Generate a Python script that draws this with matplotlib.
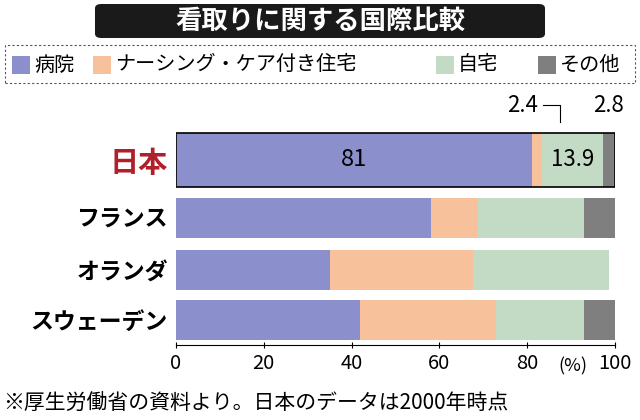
import matplotlib
matplotlib.use("Agg")
import matplotlib.pyplot as plt
from matplotlib.patches import FancyBboxPatch, Rectangle
import numpy as np

plt.rcParams["font.family"] = "Noto Sans CJK JP"

countries = ["日本", "フランス", "オランダ", "スウェーデン"]
categories = ["病院", "ナーシング・ケア付き住宅", "自宅", "その他"]
hospital = [81, 58.1, 35.1, 41.9]
nursing = [2.4, 10.7, 32.6, 31.0]
home = [13.9, 24.1, 30.9, 20.0]
other = [2.8, 7.1, 0.0, 7.1]
colors = ["#8b90cc", "#f7c29b", "#c3dbc4", "#7f7f7f"]
xticks = [0, 20, 40, 60, 80, 100]

fig = plt.figure(figsize=(6.4, 4.2), dpi=100)
W, H = 640, 420

# title box
fig.patches.append(FancyBboxPatch((95 / W, 1 - 38 / H), 450 / W, 34 / H,
                                  boxstyle="round,pad=0,rounding_size=0.01",
                                  transform=fig.transFigure, fc="#1a1a1a", ec="none"))
fig.text(320 / W, 1 - 21 / H, "看取りに関する国際比較", color="white", fontsize=19,
         fontweight="bold", ha="center", va="center")

# legend box
fig.patches.append(Rectangle((5 / W, 1 - 83 / H), 630 / W, 38 / H, transform=fig.transFigure,
                             fc="white", ec="#555555", ls=(0, (2, 2)), lw=0.8))
leg_x = [12, 93, 436, 538]
for x, lab, c in zip(leg_x, categories, colors):
    fig.patches.append(Rectangle((x / W, 1 - 74 / H), 18 / W, 18 / H,
                                 transform=fig.transFigure, fc=c, ec="none"))
    fig.text((x + 22) / W, 1 - 65 / H, lab, fontsize=14.5, va="center", ha="left")

ax = fig.add_axes([176 / W, 1 - 345 / H, 439 / W, 220 / H])
centers = [160, 218, 270, 320]
heights = [54, 40, 40, 40]
left = np.zeros(4)
for vals, c in zip([hospital, nursing, home, other], colors):
    ax.barh(centers, vals, left=left, height=heights, color=c, edgecolor="none")
    left += np.array(vals)
# Japan bar outline
ax.barh(centers[0], hospital[0] + nursing[0] + home[0] + other[0], height=heights[0],
        fill=False, edgecolor="black", lw=1.2)

ax.set_xlim(0, 100)
ax.set_ylim(345, 125)
ax.text(hospital[0] / 2, centers[0], "81", fontsize=17, ha="center", va="center")
ax.text(hospital[0] + nursing[0] + home[0] / 2, centers[0], f"{home[0]}", fontsize=16,
         ha="center", va="center")
ax.text(79, 105, f"{nursing[0]}", fontsize=16, ha="center", va="center", clip_on=False)
ax.plot([83.5, 87.5, 87.5], [105, 105, 122], color="black", lw=0.8, clip_on=False)
ax.text(98.5, 105, f"{other[0]}", fontsize=16, ha="center", va="center", clip_on=False)

ax.set_yticks(centers)
ax.set_yticklabels(countries, fontsize=16.5, fontweight="bold")
ax.get_yticklabels()[0].set_color("#b0202a")
ax.get_yticklabels()[0].set_fontsize(21)
ax.tick_params(axis="y", length=0, pad=6)
ax.set_xticks(xticks)
ax.set_xticklabels([str(t) for t in xticks], fontsize=14.5)
ax.tick_params(axis="x", length=5, direction="inout")
for s in ["top", "right", "left"]:
    ax.spines[s].set_visible(False)
ax.text(90.5, 366, "(%)", fontsize=13, ha="center", va="center", clip_on=False)

fig.text(3 / W, 1 - 404 / H, "※厚生労働省の資料より。日本のデータは2000年時点", fontsize=15,
         ha="left", va="center")

fig.savefig("out.png", dpi=100)
